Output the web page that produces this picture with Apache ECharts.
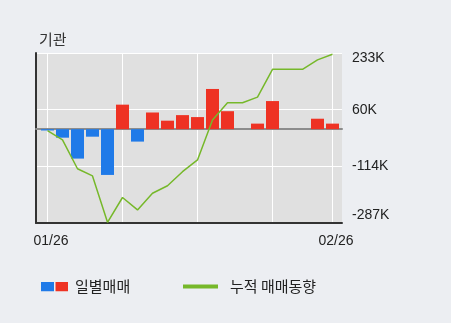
<!DOCTYPE html>
<html>
<head>
<meta charset="utf-8">
<script src="https://cdn.jsdelivr.net/npm/echarts@6/dist/echarts.min.js"></script>
<style>
html,body{margin:0;padding:0;background:#eceef2;}
#c{width:451px;height:323px;}
</style>
</head>
<body>
<div id="c"></div>
<script>
// ---- data ----
var dates = ['01/26','01/29','01/30','01/31','02/01','02/02','02/05','02/06','02/07','02/08',
             '02/09','02/12','02/13','02/14','02/19','02/20','02/21','02/22','02/23','02/26'];
var dailyNet = [-4000,-26000,-90000,-23000,-140000,75000,-38000,51000,26000,43000,
                37000,123000,55000,0,17000,86000,0,0,32000,17000];
var cumulative = [-4600,-33000,-121000,-143000,-285000,-209000,-247000,-196000,-173000,-130000,
                  -94000,28000,81000,81000,98000,183000,183000,183000,212000,229000];
var yMin = -287000, yMax = 233000;
var yTickLabels = ['-287K','-114K','60K','233K'];
var seriesNames = ['일별매매','누적 매매동향'];
var titleText = '기관';

var BLUE = '#1f7ae8', RED = '#ee3223', GREEN = '#76b82a';
var FONT = "'Liberation Sans', 'Noto Sans CJK KR', sans-serif";
var KFONT = "'Noto Sans CJK KR', sans-serif";
var yInterval = (yMax - yMin) / 3;

var barIconSvg = '<svg xmlns="http://www.w3.org/2000/svg" width="27" height="10" viewBox="0 0 27 10">' +
  '<rect x="0" y="0" width="13" height="10" fill="' + BLUE + '"/>' +
  '<rect x="14.5" y="0" width="12.5" height="10" fill="' + RED + '"/></svg>';
var barIcon = 'image://data:image/svg+xml;charset=utf-8,' + encodeURIComponent(barIconSvg);

var chart = echarts.init(document.getElementById('c'));
chart.setOption({
  animation: false,
  backgroundColor: '#eceef2',
  title: {
    text: titleText, left: 34, top: 27,
    textStyle: {fontFamily: KFONT, fontSize: 15, fontWeight: 'normal', color: '#333'}
  },
  legend: [
    {
      data: [{name: seriesNames[0], icon: barIcon}],
      left: 36, top: 274, itemWidth: 27, itemHeight: 10,
      textStyle: {fontFamily: KFONT, fontSize: 15, color: '#222', padding: [0,0,0,2]}
    },
    {
      data: [{name: seriesNames[1], icon: 'rect'}],
      left: 178, top: 274, itemWidth: 35, itemHeight: 4,
      textStyle: {fontFamily: KFONT, fontSize: 15, color: '#222', padding: [0,0,0,7]}
    }
  ],
  grid: [
    {left: 36, top: 53, width: 306, height: 170, show: true, backgroundColor: '#e0e0e0', borderWidth: 0},
    {left: 47.5, top: 53, width: 285, height: 170}
  ],
  xAxis: [
    {gridIndex: 0, type: 'value', min: 0, max: 1, position: 'bottom',
     axisLine: {show: true, onZero: false, lineStyle: {color: '#333', width: 2}},
     axisTick: {show: false}, axisLabel: {show: false}, splitLine: {show: false}},
    {gridIndex: 0, type: 'value', min: 0, max: 1, position: 'top',
     axisLine: {show: true, onZero: true, lineStyle: {color: '#8c8c8c', width: 2}},
     axisTick: {show: false}, axisLabel: {show: false}, splitLine: {show: false}},
    {gridIndex: 1, type: 'category', data: dates, boundaryGap: false,
     axisLine: {show: false}, axisTick: {show: false},
     axisLabel: {
       interval: function (i) { return i === 0 || i === dates.length - 1; },
       fontFamily: FONT, fontSize: 14, color: '#222', margin: 11, padding: [0,0,0,7]
     },
     splitLine: {
       show: true,
       interval: function (i) { return i % 5 === 0 || i === dates.length - 1; },
       lineStyle: {color: '#ffffff', width: 1}
     }}
  ],
  yAxis: [
    {gridIndex: 0, type: 'value', min: yMin, max: yMax, interval: yInterval, position: 'right',
     axisLine: {show: false, onZero: false}, axisTick: {show: false},
     axisLabel: {
       margin: 10, fontFamily: FONT, fontSize: 14, color: '#222',
       formatter: function (v) {
         var idx = Math.round((v - yMin) / yInterval);
         var s = yTickLabels[idx];
         if (idx === yTickLabels.length - 1) return '{t|' + s + '}';
         if (idx === 0) return '{b|' + s + '}';
         return s;
       },
       rich: {
         t: {fontFamily: FONT, fontSize: 14, color: '#222', padding: [10,0,0,0]},
         b: {fontFamily: FONT, fontSize: 14, color: '#222', padding: [0,0,15,0]}
       }
     },
     splitLine: {show: true, lineStyle: {color: '#ffffff', width: 1}}},
    {gridIndex: 0, type: 'value', min: yMin, max: yMax, interval: yInterval, position: 'left',
     axisLine: {show: true, onZero: false, lineStyle: {color: '#333', width: 2}},
     axisTick: {show: false}, axisLabel: {show: false}, splitLine: {show: false}},
    {gridIndex: 1, type: 'value', min: yMin, max: yMax, show: false,
     axisLine: {onZero: false}, splitLine: {show: false}}
  ],
  series: [
    {
      name: seriesNames[0], type: 'bar', xAxisIndex: 2, yAxisIndex: 2,
      data: dailyNet, barWidth: 13, clip: false,
      itemStyle: {color: function (p) { return p.value < 0 ? BLUE : RED; }},
      z: 3
    },
    {
      name: seriesNames[1], type: 'line', xAxisIndex: 2, yAxisIndex: 2,
      data: cumulative, symbol: 'none', color: GREEN,
      lineStyle: {color: GREEN, width: 1.5}, z: 4
    }
  ]
});
</script>
</body>
</html>
